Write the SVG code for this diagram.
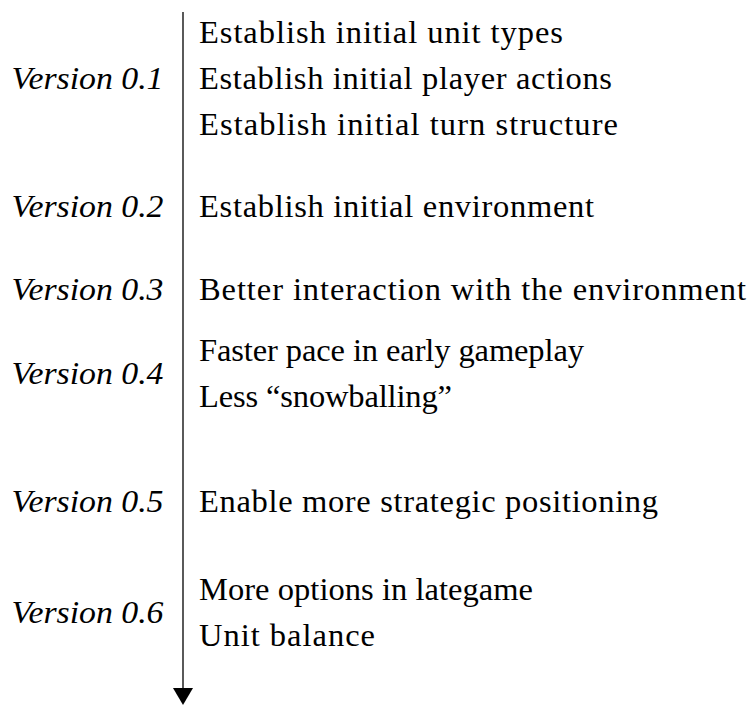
<svg xmlns="http://www.w3.org/2000/svg" width="749" height="706" viewBox="0 0 749 706">
<style>
  .lbl { font-family: 'Liberation Serif', serif; font-style: italic; font-size: 31px; fill: #000; }
  .txt { font-family: 'Liberation Serif', serif; font-size: 32.5px; fill: #000; }
  .axis { stroke: #000; stroke-width: 1.3; fill: none; }
</style>
<defs>
  <marker id="arrow" viewBox="0 0 17 20" markerWidth="17" markerHeight="20" refX="0" refY="10" orient="auto" markerUnits="userSpaceOnUse">
    <path d="M0,0 L17,10 L0,20 z" fill="#000"/>
  </marker>
</defs>
<rect width="749" height="706" fill="#fff"/>
<g id="connectors">
  <line class="axis" x1="183" y1="12" x2="183" y2="688" marker-end="url(#arrow)"/>
</g>
<g id="v01">
  <text class="lbl" x="11.5" y="89" textLength="152" lengthAdjust="spacingAndGlyphs">Version 0.1</text>
  <text class="txt" x="199" y="43" textLength="364" lengthAdjust="spacing">Establish initial unit types</text>
  <text class="txt" x="199" y="89" textLength="413" lengthAdjust="spacing">Establish initial player actions</text>
  <text class="txt" x="199" y="135" textLength="419" lengthAdjust="spacing">Establish initial turn structure</text>
</g>
<g id="v02">
  <text class="lbl" x="11.5" y="217" textLength="152" lengthAdjust="spacingAndGlyphs">Version 0.2</text>
  <text class="txt" x="199" y="217" textLength="395" lengthAdjust="spacing">Establish initial environment</text>
</g>
<g id="v03">
  <text class="lbl" x="11.5" y="300" textLength="152" lengthAdjust="spacingAndGlyphs">Version 0.3</text>
  <text class="txt" x="199" y="300" textLength="547" lengthAdjust="spacing">Better interaction with the environment</text>
</g>
<g id="v04">
  <text class="lbl" x="11.5" y="384" textLength="152" lengthAdjust="spacingAndGlyphs">Version 0.4</text>
  <text class="txt" x="199" y="361" textLength="385" lengthAdjust="spacing">Faster pace in early gameplay</text>
  <text class="txt" x="199" y="407" textLength="253" lengthAdjust="spacing">Less “snowballing”</text>
</g>
<g id="v05">
  <text class="lbl" x="11.5" y="512" textLength="152" lengthAdjust="spacingAndGlyphs">Version 0.5</text>
  <text class="txt" x="199" y="512" textLength="459" lengthAdjust="spacing">Enable more strategic positioning</text>
</g>
<g id="v06">
  <text class="lbl" x="11.5" y="623" textLength="152" lengthAdjust="spacingAndGlyphs">Version 0.6</text>
  <text class="txt" x="199" y="600" textLength="334" lengthAdjust="spacing">More options in lategame</text>
  <text class="txt" x="199" y="646" textLength="176" lengthAdjust="spacing">Unit balance</text>
</g>
</svg>
